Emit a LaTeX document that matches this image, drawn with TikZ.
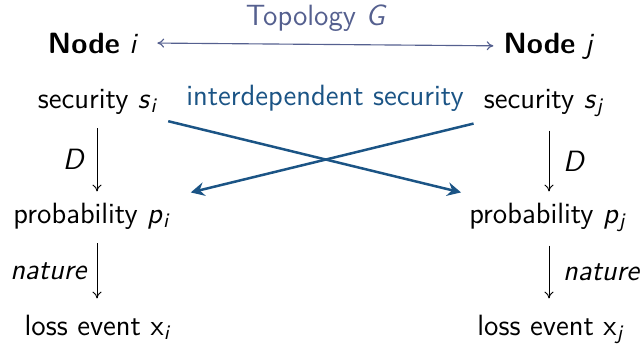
\documentclass[tikz,border=0pt]{standalone}
\usetikzlibrary{arrows.meta,calc}
\definecolor{topo}{HTML}{55608F}
\definecolor{idep}{HTML}{1B5485}
\newcommand{\sv}[2]{\textsl{#1}\textsubscript{\textsl{#2}}}
\newcommand{\xv}[1]{x\textsubscript{\textsl{#1}}}
\begin{document}
\begin{tikzpicture}[x=0.44pt,y=-0.44pt,
  every node/.style={font=\fontsize{12.9}{15}\sffamily},
  txt/.style={anchor=base, inner sep=4.3pt},
  flow/.style={-{To[length=3pt,width=4pt]}, line width=0.4pt, black},
  cross/.style={-{Stealth[length=6pt,width=6pt,inset=2pt]}, line width=1.1pt, idep},
  topoarr/.style={{To[length=3pt,width=4pt]}-{To[length=3pt,width=4pt]}, line width=0.5pt, topo}]
\useasboundingbox (0,0) rectangle (642,343);
% nodes
\node[txt] (ni) at (93,53) {\textbf{Node} \textsl{i}};
\node[txt] (nj) at (549,53) {\textbf{Node} \textsl{j}};
\node[txt] (si) at (98,108) {security \sv{s}{i}};
\node[txt] (sj) at (544,108) {security \sv{s}{j}};
\node[txt] (pi) at (92,223) {probability \sv{p}{i}};
\node[txt] (pj) at (548,223) {probability \sv{p}{j}};
\node[txt] (xi) at (98,335) {loss event \xv{i}};
\node[txt] (xj) at (551,335) {loss event \xv{j}};
\node[txt, text=idep] (ids) at (325,105) {interdependent security};
% column coordinates
\coordinate (cL) at (97,0);
\coordinate (cR) at (549,0);
% topology arrow
\draw[topoarr, shorten <=4pt] (ni.east) -- (nj.west)
  node[midway, above=2pt, text=topo, xshift=-2pt] (topl) {Topology \textsl{G}};
% vertical flows
\draw[flow] ($(si.south -| cL)+(0,4)$) -- ($(pi.north -| cL)+(0,-1)$)
  node[midway, left, inner sep=5pt] (dl) {\textsl{D}};
\draw[flow] ($(pi.south -| cL)+(0,4)$) -- ($(xi.north -| cL)+(0,-6)$)
  node[midway, left, inner sep=4pt] (nl) {\textsl{nature}};
\draw[flow] ($(sj.south -| cR)+(0,4)$) -- ($(pj.north -| cR)+(0,-1)$)
  node[midway, right, inner sep=6pt] (dr) {\textsl{D}};
\draw[flow] ($(pj.south -| cR)+(0,4)$) -- ($(xj.north -| cR)+(0,-6)$)
  node[midway, right, inner sep=6pt] (nr) {\textsl{nature}};
% cross arrows
\draw[cross] ($(si.south east)+(0,-3)$) -- ($(pj.north west)+(2,0)$);
\draw[cross] ($(sj.south west)+(0,-3)$) -- ($(pi.north east)+(10,0)$);
\end{tikzpicture}
\end{document}
